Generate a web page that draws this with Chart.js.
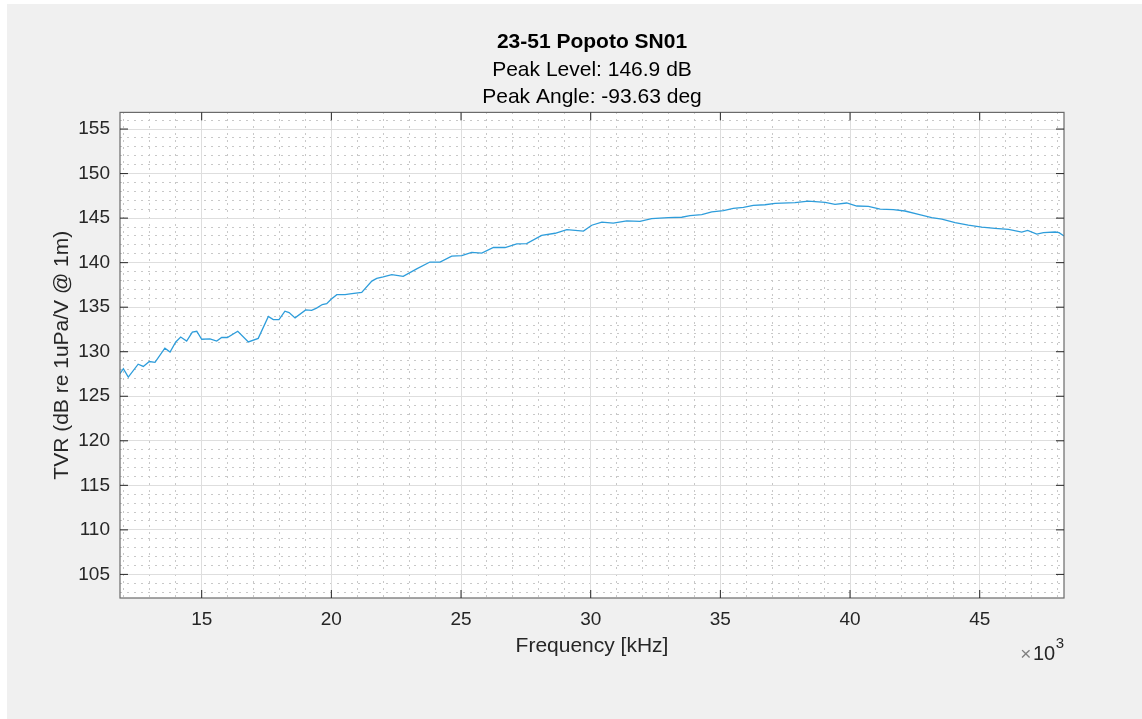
<!DOCTYPE html>
<html>
<head>
<meta charset="utf-8">
<script src="https://cdn.jsdelivr.net/npm/chart.js@4.4.1/dist/chart.umd.min.js"></script>
<style>
  html, body { margin: 0; padding: 0; background: #ffffff; }
  #wrap { position: absolute; left: 7px; top: 4px; width: 1135px; height: 715px; background: #f0f0f0; }
</style>
</head>
<body>
<div id="wrap"><canvas id="tvr"></canvas></div>
<script>
// TVR sweep (frequency in kHz, level in dB re 1uPa/V @ 1m)
const freqKHz = [11.85, 11.98, 12.17, 12.55, 12.75, 12.98, 13.20, 13.58, 13.78, 14.00,
  14.19, 14.42, 14.64, 14.81, 15.00, 15.32, 15.58, 15.77, 15.99, 16.39,
  16.80, 17.18, 17.57, 17.76, 17.98, 18.21, 18.37, 18.60, 19.01, 19.24,
  19.43, 19.65, 19.82, 19.99, 20.21, 20.53, 20.72, 21.17, 21.56, 21.75,
  22.00, 22.33, 22.77, 23.29, 23.80, 24.19, 24.64, 25.03, 25.41, 25.80,
  26.25, 26.70, 27.15, 27.53, 28.11, 28.63, 29.08, 29.72, 30.04, 30.43,
  30.87, 31.39, 31.90, 32.35, 32.99, 33.51, 33.83, 34.28, 34.67, 35.12,
  35.50, 35.89, 36.27, 36.72, 37.11, 37.88, 38.39, 39.04, 39.42, 39.87,
  40.26, 40.71, 41.16, 41.67, 42.12, 42.64, 43.15, 43.54, 44.05, 44.56,
  45.08, 45.59, 46.11, 46.62, 46.85, 47.20, 47.46, 47.91, 48.06, 48.25];
const tvrDb = [127.54, 128.1, 127.15, 128.6, 128.35, 128.9, 128.8, 130.4, 129.96, 131.1,
  131.65, 131.2, 132.2, 132.3, 131.4, 131.45, 131.2, 131.6, 131.6, 132.3,
  131.1, 131.5, 133.97, 133.6, 133.6, 134.55, 134.4, 133.8, 134.7, 134.65,
  134.9, 135.3, 135.4, 135.9, 136.4, 136.4, 136.5, 136.67, 137.93, 138.23,
  138.4, 138.65, 138.46, 139.3, 140.07, 140.07, 140.74, 140.8, 141.15, 141.08,
  141.7, 141.7, 142.1, 142.13, 143.06, 143.3, 143.7, 143.55, 144.2, 144.56,
  144.45, 144.7, 144.64, 144.94, 145.05, 145.1, 145.28, 145.4, 145.7, 145.84,
  146.1, 146.2, 146.43, 146.5, 146.66, 146.74, 146.9, 146.77, 146.55, 146.7,
  146.36, 146.32, 146.0, 145.95, 145.8, 145.42, 145.05, 144.9, 144.5, 144.22,
  144.0, 143.85, 143.74, 143.44, 143.63, 143.21, 143.37, 143.44, 143.37, 143.0];

const titleText = '23-51 Popoto SN01';
const subtitleLines = ['Peak Level: 146.9 dB', 'Peak Angle: -93.63 deg'];
const xLimits = [11.85, 48.25];
const yLimits = [102.35, 156.87];

const FONT = '"Liberation Sans", Arial, Helvetica, sans-serif';
const TXT = '#262626';

// MATLAB-style axes: white plot area, box, inward ticks on all four sides, exponent label
const axisBox = {
  id: 'axisBox',
  beforeDraw(chart) {
    const { ctx, chartArea: a } = chart;
    ctx.save();
    ctx.fillStyle = '#ffffff';
    ctx.fillRect(a.left, a.top, a.right - a.left, a.bottom - a.top);
    ctx.restore();
  },
  afterDraw(chart) {
    const { ctx, chartArea: a, scales } = chart;
    const x = scales.x, y = scales.y;
    ctx.save();
    ctx.lineWidth = 1.2;
    ctx.strokeStyle = '#6a6a6a';
    ctx.strokeRect(a.left, a.top, a.right - a.left, a.bottom - a.top);
    ctx.strokeStyle = TXT;
    ctx.lineWidth = 1;
    ctx.beginPath();
    x.ticks.forEach(t => {
      const px = x.getPixelForValue(t.value);
      ctx.moveTo(px, a.bottom); ctx.lineTo(px, a.bottom - 8);
      ctx.moveTo(px, a.top); ctx.lineTo(px, a.top + 8);
    });
    y.ticks.forEach(t => {
      const py = y.getPixelForValue(t.value);
      ctx.moveTo(a.left, py); ctx.lineTo(a.left + 8, py);
      ctx.moveTo(a.right, py); ctx.lineTo(a.right - 8, py);
    });
    ctx.stroke();

    // x10^3
    ctx.textBaseline = 'alphabetic';
    ctx.textAlign = 'right';
    let rx = a.right;
    ctx.fillStyle = TXT;
    ctx.font = '15px ' + FONT;
    ctx.fillText('3', rx, 644);
    rx -= ctx.measureText('3').width + 0.5;
    ctx.font = '20px ' + FONT;
    ctx.fillText('10', rx, 656);
    rx -= ctx.measureText('10').width + 1.5;
    ctx.fillStyle = '#808080';
    ctx.font = '19px ' + FONT;
    ctx.fillText('\u00d7', rx, 656);
    ctx.restore();
  }
};

new Chart(document.getElementById('tvr'), {
  type: 'line',
  data: {
    datasets: [{
      data: freqKHz.map((f, i) => ({ x: f, y: tvrDb[i] })),
      borderColor: '#2e9ddb',
      borderWidth: 1.3,
      pointRadius: 0,
      tension: 0,
      fill: false
    }]
  },
  options: {
    responsive: true,
    maintainAspectRatio: false,
    animation: false,
    layout: { padding: { left: 35, right: 0, top: 0, bottom: 0 } },
    plugins: {
      legend: { display: false },
      tooltip: { enabled: false },
      title: {
        display: true,
        text: titleText,
        color: '#000',
        font: { family: FONT, size: 21, weight: 'bold', lineHeight: '27px' },
        padding: { top: 25, bottom: 0 }
      },
      subtitle: {
        display: true,
        text: subtitleLines,
        color: '#000',
        font: { family: FONT, size: 21, lineHeight: '26.7px' },
        padding: { top: 1, bottom: 2 }
      }
    },
    scales: {
      xm: {
        type: 'linear', position: 'top',
        min: xLimits[0], max: xLimits[1],
        ticks: { display: false, stepSize: 1, includeBounds: false },
        grid: { color: '#c8c8c8', lineWidth: 1, drawTicks: false },
        border: { display: false, dash: [2, 5] },
        afterFit(s) { s.height = 0; }
      },
      ym: {
        type: 'linear', position: 'right',
        min: yLimits[0], max: yLimits[1],
        ticks: { display: false, stepSize: 1, includeBounds: false },
        grid: { color: '#c8c8c8', lineWidth: 1, drawTicks: false },
        border: { display: false, dash: [2, 5] },
        afterFit(s) { s.width = 78; }
      },
      x: {
        type: 'linear', position: 'bottom',
        min: xLimits[0], max: xLimits[1],
        ticks: {
          stepSize: 5, includeBounds: false, autoSkip: false, maxRotation: 0,
          padding: 10, color: TXT, font: { family: FONT, size: 19 }
        },
        grid: { color: '#dedede', lineWidth: 1, drawTicks: false },
        border: { display: false },
        title: {
          display: true, text: 'Frequency [kHz]', color: TXT,
          font: { family: FONT, size: 21 }, padding: { top: 0, bottom: 60 }
        },
        afterFit(s) { s.height = 121; }
      },
      y: {
        type: 'linear', position: 'left',
        min: yLimits[0], max: yLimits[1],
        ticks: {
          stepSize: 5, includeBounds: false, autoSkip: false,
          padding: 10, color: TXT, font: { family: FONT, size: 19 }
        },
        grid: { color: '#dedede', lineWidth: 1, drawTicks: false },
        border: { display: false },
        title: {
          display: true, text: 'TVR (dB re 1uPa/V @ 1m)', color: TXT,
          font: { family: FONT, size: 21 }, padding: { top: 8, bottom: 0 }
        },
        afterFit(s) { s.width = 78; }
      }
    }
  },
  plugins: [axisBox]
});
</script>
</body>
</html>
